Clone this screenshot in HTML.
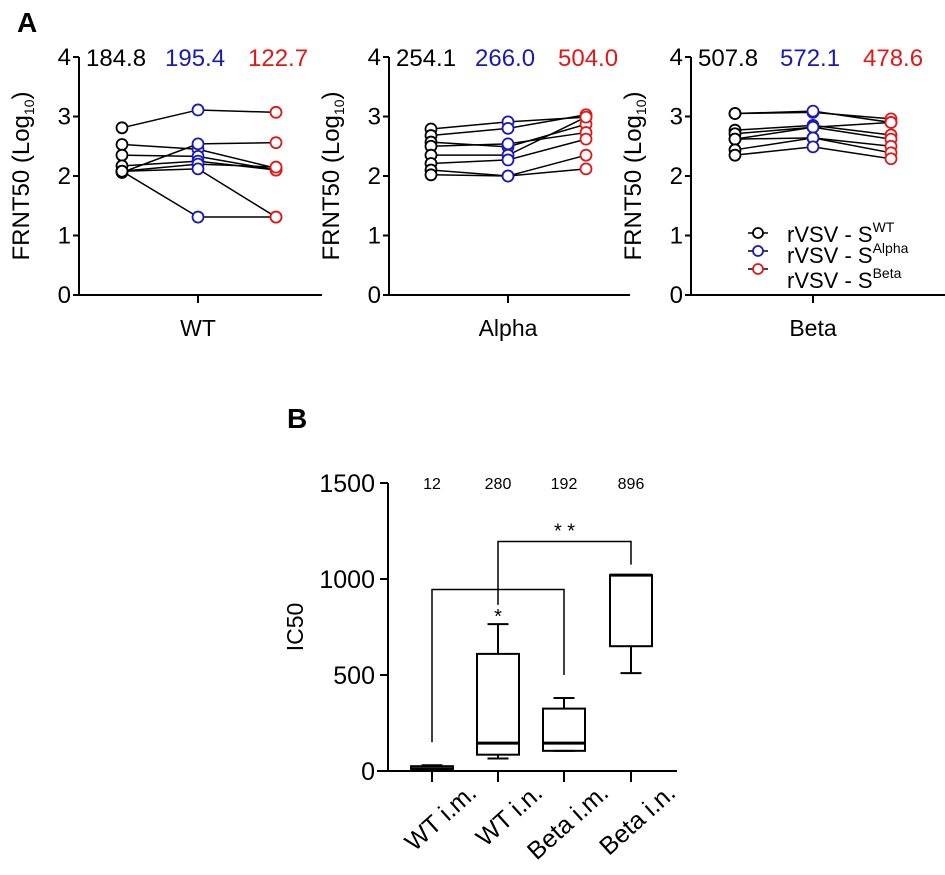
<!DOCTYPE html>
<html><head><meta charset="utf-8"><style>
body{margin:0;background:#fff;}
svg{display:block;font-family:"Liberation Sans",Arial,sans-serif;}
</style></head><body>
<svg id="fig" width="945" height="875" viewBox="0 0 945 875">
<text x="17" y="32" font-size="28" font-weight="bold">A</text>
<text x="287" y="428" font-size="28" font-weight="bold">B</text>
<g id="pa"></g>
<g id="pb"></g>
</svg>
<script>
// Panel A data (log10 FRNT50), each subject: [WT-virus, Alpha-virus, Beta-virus]
const panelTitles = ["WT", "Alpha", "Beta"];
const gmtLabels = [["184.8","195.4","122.7"],["254.1","266.0","504.0"],["507.8","572.1","478.6"]];
const wtSubjects = [[2.81,3.11,3.07],[2.53,2.45,2.13],[2.35,2.33,2.10],[2.17,2.25,2.10],[2.06,2.54,2.56],[2.08,2.20,2.15],[2.08,2.12,1.31],[2.08,1.31,1.31]];
const alphaSubjects = [[2.79,2.91,2.99],[2.68,2.80,3.03],[2.57,2.49,2.87],[2.50,2.54,2.73],[2.35,2.35,2.99],[2.21,2.27,2.62],[2.10,2.00,2.35],[2.02,2.00,2.12]];
const betaSubjects = [[3.05,3.07,2.96],[3.05,3.09,2.90],[2.77,2.85,2.69],[2.71,2.82,2.90],[2.62,2.82,2.62],[2.62,2.64,2.50],[2.44,2.64,2.39],[2.35,2.49,2.29]];
const yTicksA = [0,1,2,3,4];
// Panel B data (IC50)
const groupsB = ["WT i.m.","WT i.n.","Beta i.m.","Beta i.n."];
const boxMin = [5,65,105,510];
const boxQ1 = [8,85,105,650];
const boxMed = [12,145,145,1020];
const boxQ3 = [25,610,325,1020];
const boxMax = [30,765,380,1020];
const topLabels = ["12","280","192","896"];
const yTicksB = [0,500,1000,1500];

const NS="http://www.w3.org/2000/svg";
function mk(parent,tag,attrs,text){const e=document.createElementNS(NS,tag);for(const k in attrs)e.setAttribute(k,attrs[k]);if(text!==undefined)e.textContent=text;parent.appendChild(e);return e;}
const colors=["#000","#1a1ab4","#e01818"];
const pa=document.getElementById('pa');
const panels=[{ax:79,xr:322,sub:wtSubjects,cx:[122,198,276]},{ax:389,xr:630,sub:alphaSubjects,cx:[431,508,586]},{ax:691,xr:945,sub:betaSubjects,cx:[735,813,891]}];
const y0A=295,unitA=59.5;
function yA(v){return y0A-v*unitA;}
panels.forEach((p,pi)=>{
  const g=mk(pa,'g',{});
  
  
  const ya=mk(g,'line',{x1:p.ax,y1:yA(4),x2:p.ax,y2:y0A,stroke:'#000','stroke-width':2});
  
  const xa=mk(g,'line',{x1:p.ax,y1:y0A,x2:p.xr,y2:y0A,stroke:'#000','stroke-width':2});
  
  mk(g,'line',{x1:p.cx[1],y1:y0A,x2:p.cx[1],y2:y0A+8,stroke:'#000','stroke-width':2});
  yTicksA.forEach(t=>{
    mk(g,'line',{x1:p.ax-6,y1:yA(t),x2:p.ax,y2:yA(t),stroke:'#000','stroke-width':2});
    const tl=mk(g,'text',{x:p.ax-8,y:yA(t)+8,'font-size':24,'text-anchor':'end'},String(t));
    
  });
  const yt=mk(g,'text',{x:0,y:0,'font-size':24,'text-anchor':'middle',transform:`translate(${p.ax-50},${yA(2)}) rotate(-90)`});
  
  yt.appendChild(document.createTextNode('FRNT50 (Log'));
  mk(yt,'tspan',{'font-size':14,dy:5},'10');
  mk(yt,'tspan',{dy:-5},')');
  const xt=mk(g,'text',{x:p.cx[1],y:y0A+41,'font-size':23,'text-anchor':'middle'},panelTitles[pi]);
  
  const starts=[p.ax+7,p.cx[1]-33,p.cx[2]-28];
  gmtLabels[pi].forEach((s,i)=>{
    const t=mk(g,'text',{x:starts[i],y:66,'font-size':24,fill:colors[i]},s);
    
  });
  p.sub.forEach(vals=>{
    const pts=vals.map((v,i)=>p.cx[i]+','+yA(v)).join(' ');
    const l=mk(g,'polyline',{points:pts,fill:'none',stroke:'#000','stroke-width':1.5});
    
  });
  p.sub.forEach(vals=>{vals.forEach((v,i)=>{
    const c=mk(g,'circle',{cx:p.cx[i],cy:yA(v),r:5.5,fill:'#fff',stroke:colors[i],'stroke-width':1.8});
    
  });});
});
// legend
const lg=mk(pa,'g',{});

const legSup=['WT','Alpha','Beta'];
[233,251,269].forEach((y,i)=>{
  const e=mk(lg,'g',{});
  
  mk(e,'line',{x1:748,y1:y,x2:768,y2:y,stroke:'#000','stroke-width':1.5});
  mk(e,'circle',{cx:758,cy:y,r:5,fill:'#fff',stroke:colors[i],'stroke-width':1.8});
  const ty=[242,263,288][i];
  const t=mk(e,'text',{x:787,y:ty,'font-size':22},'rVSV - S');
  mk(t,'tspan',{'font-size':14,dy:-10},legSup[i]);
});
// Panel B
const pb=document.getElementById('pb');
const axB=388,y0B=771,pxPer=288/1500;
function yB(v){return y0B-v*pxPer;}
const cxB=[432,498,564,631];
const ya=mk(pb,'line',{x1:axB,y1:yB(1500),x2:axB,y2:y0B,stroke:'#000','stroke-width':2});

const xa=mk(pb,'line',{x1:377,y1:y0B,x2:677,y2:y0B,stroke:'#000','stroke-width':2});

yTicksB.forEach(t=>{
  mk(pb,'line',{x1:axB-8,y1:yB(t),x2:axB,y2:yB(t),stroke:'#000','stroke-width':2});
  const tl=mk(pb,'text',{x:axB-13,y:yB(t)+9,'font-size':25,'text-anchor':'end'},String(t));
  
});
const ytB=mk(pb,'text',{x:0,y:0,'font-size':23,'text-anchor':'middle',transform:`translate(303,${yB(750)}) rotate(-90)`},'IC50');

groupsB.forEach((gname,i)=>{
  const x=cxB[i];
  mk(pb,'line',{x1:x,y1:y0B,x2:x,y2:y0B+11,stroke:'#000','stroke-width':2});
  const lab=mk(pb,'text',{x:0,y:0,'font-size':25,'text-anchor':'end',transform:`translate(${x+46},${y0B+24}) rotate(-42)`},gname);
  
  const tl=mk(pb,'text',{x:x,y:489,'font-size':16,'text-anchor':'middle'},topLabels[i]);
  
  const bg=mk(pb,'g',{});
  
  
  const w=21;
  mk(bg,'line',{x1:x,y1:yB(boxMax[i]),x2:x,y2:yB(boxQ3[i]),stroke:'#000','stroke-width':2});
  mk(bg,'line',{x1:x,y1:yB(boxMin[i]),x2:x,y2:yB(boxQ1[i]),stroke:'#000','stroke-width':2});
  mk(bg,'line',{x1:x-w/2,y1:yB(boxMax[i]),x2:x+w/2,y2:yB(boxMax[i]),stroke:'#000','stroke-width':2});
  mk(bg,'line',{x1:x-w/2,y1:yB(boxMin[i]),x2:x+w/2,y2:yB(boxMin[i]),stroke:'#000','stroke-width':2});
  mk(bg,'rect',{x:x-w,y:yB(boxQ3[i]),width:2*w,height:Math.max(yB(boxQ1[i])-yB(boxQ3[i]),1),fill:'none',stroke:'#000','stroke-width':2});
  mk(bg,'line',{x1:x-w,y1:yB(boxMed[i]),x2:x+w,y2:yB(boxMed[i]),stroke:'#000','stroke-width':3});
});
// significance brackets
const br1=mk(pb,'polyline',{points:`${cxB[0]},${yB(150)} ${cxB[0]},${yB(945)} ${cxB[2]},${yB(945)} ${cxB[2]},${yB(500)}`,fill:'none',stroke:'#000','stroke-width':1.5});

const br2=mk(pb,'polyline',{points:`${cxB[1]},${yB(865)} ${cxB[1]},${yB(1195)} ${cxB[3]},${yB(1195)} ${cxB[3]},${yB(1075)}`,fill:'none',stroke:'#000','stroke-width':1.5});

const s1=mk(pb,'text',{x:cxB[1],y:yB(770),'font-size':20,'text-anchor':'middle'},'*');

const s2=mk(pb,'text',{x:(cxB[1]+cxB[3])/2,y:yB(1215),'font-size':20,'text-anchor':'middle'},'* *');

</script>
</body></html>
